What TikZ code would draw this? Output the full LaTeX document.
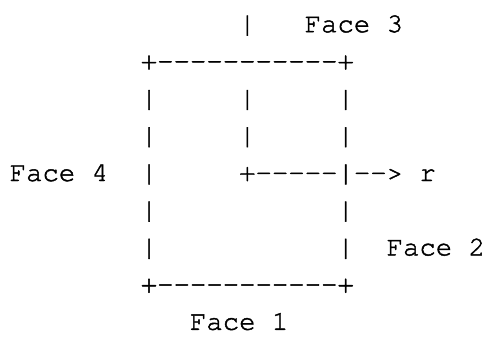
\documentclass[tikz,border=0pt]{standalone}
\usepackage{fontspec}
\setmonofont{texgyrecursor-regular.otf}[FakeBold=1.6]
\begin{document}
% one unit = one pixel of a 489 x 336 grid, y grows downwards
\begin{tikzpicture}[x=0.75pt, y=-0.75pt,
  txt/.style={anchor=base west, inner sep=0pt, outer sep=0pt,
              font=\ttfamily\fontsize{20.49pt}{24pt}\selectfont}]
\useasboundingbox (0,0) rectangle (489,336);
% character grid: column c starts at 9.7 + 16.39 c, row r has its baseline at 32.2 + 37.2 (r-1)
\def\cw{16.39}
\def\lh{37.2}
% row 1
\node[txt] (topbar)  at ({9.7+14*\cw},{32.2+0*\lh}) {|};
\node[txt] (face3)   at ({9.7+18*\cw},{32.2+0*\lh}) {Face 3};
% row 2: top edge
\node[txt] (topedge) at ({9.7+8*\cw},{32.2+1*\lh}) {+-----------+};
% rows 3 and 4
\node[txt] (l3)  at ({9.7+8*\cw},{32.2+2*\lh}) {|};
\node[txt] (m3)  at ({9.7+14*\cw},{32.2+2*\lh}) {|};
\node[txt] (r3)  at ({9.7+20*\cw},{32.2+2*\lh}) {|};
\node[txt] (l4)  at ({9.7+8*\cw},{32.2+3*\lh}) {|};
\node[txt] (m4)  at ({9.7+14*\cw},{32.2+3*\lh}) {|};
\node[txt] (r4)  at ({9.7+20*\cw},{32.2+3*\lh}) {|};
% row 5: radius out to r
\node[txt] (face4)  at ({9.7+0*\cw},{32.2+4*\lh}) {Face 4};
\node[txt] (l5)     at ({9.7+8*\cw},{32.2+4*\lh}) {|};
\node[txt] (radius) at ({9.7+14*\cw},{32.2+4*\lh}) {+-----|--> r};
% rows 6 and 7
\node[txt] (l6)  at ({9.7+8*\cw},{32.2+5*\lh}) {|};
\node[txt] (r6)  at ({9.7+20*\cw},{32.2+5*\lh}) {|};
\node[txt] (l7)  at ({9.7+8*\cw},{32.2+6*\lh}) {|};
\node[txt] (r7)  at ({9.7+20*\cw},{32.2+6*\lh}) {|};
\node[txt] (face2) at ({9.7+23*\cw},{32.2+6*\lh}) {Face 2};
% row 8: bottom edge
\node[txt] (botedge) at ({9.7+8*\cw},{32.2+7*\lh}) {+-----------+};
% row 9
\node[txt] (face1) at ({9.7+11*\cw},{32.2+8*\lh}) {Face 1};
\end{tikzpicture}
\end{document}
